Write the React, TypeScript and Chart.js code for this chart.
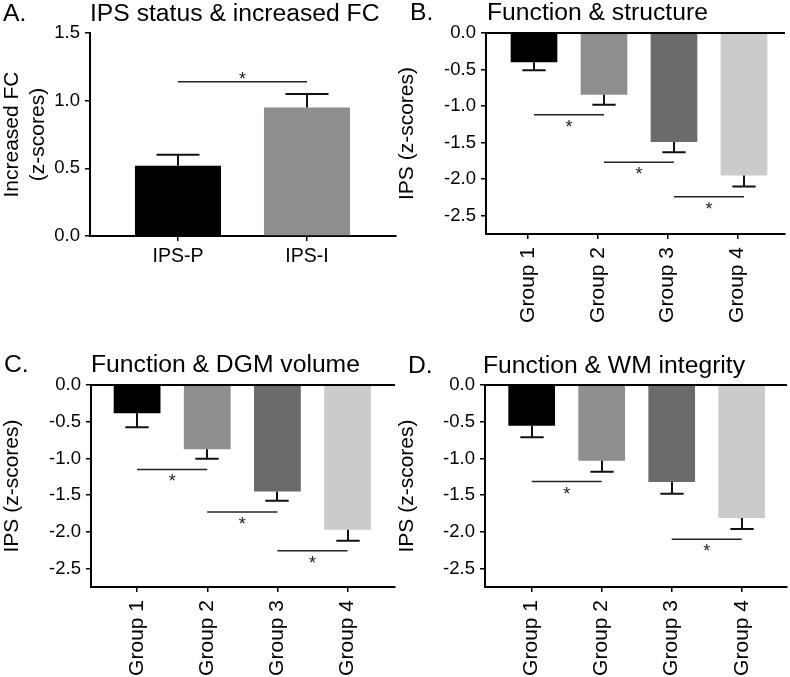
import React, { useEffect, useRef } from "react";
import { Chart, registerables } from "chart.js";

Chart.register(...registerables);

const FONT = "'Liberation Sans', Arial, Helvetica, sans-serif";
Chart.defaults.font.family = FONT;

// ---------- data ----------
const aLabels = ["IPS-P", "IPS-I"];
const aMeans = [0.52, 0.95];
const aErrorEnds = [0.6, 1.05];
const aColors = ["#000000", "#8e8e8e"];
const aYTicks = [0, 0.5, 1.0, 1.5];
const aYTitle = ["Increased FC", "(z-scores)"];
const aSig = [[1, 2, 1.14]];

const groupLabels = ["Group 1", "Group 2", "Group 3", "Group 4"];
const groupColors = ["#000000", "#8e8e8e", "#6b6b6b", "#cbcbcb"];
const groupYTicks = [-2.5, -2.0, -1.5, -1.0, -0.5, 0.0];
const groupYTitle = "IPS (z-scores)";

const bMeans = [-0.4, -0.845, -1.49, -1.95];
const bErrorEnds = [-0.51, -0.98, -1.63, -2.1];
const bSig = [[1, 2, -1.12], [2, 3, -1.77], [3, 4, -2.24]];

const cMeans = [-0.385, -0.875, -1.45, -1.97];
const cErrorEnds = [-0.575, -1.005, -1.575, -2.12];
const cSig = [[1, 2, -1.15], [2, 3, -1.73], [3, 4, -2.255]];

const dMeans = [-0.555, -1.03, -1.32, -1.81];
const dErrorEnds = [-0.71, -1.18, -1.48, -1.96];
const dSig = [[1, 2, -1.315], [3, 4, -2.1]];

// ---------- panels ----------
type Panel = {
  id: string;
  letter: string;
  title: string;
  labels: string[];
  means: number[];
  errors: number[];
  colors: string[];
  sig: number[][];
  yTicks: number[];
  yMin: number;
  yMax: number;
  yTitle: string | string[];
  box: { left: number; top: number; width: number; height: number };
  area: { left: number; top: number; right: number; bottom: number };
  xMin: number;
  xMax: number;
  tickShift: number;
  rotate: number;
  xFont: number;
  xPad: number;
  letterX: number;
  titleY: number;
  titleDx: number;
  starAbove: boolean;
  zeroLine: boolean;
};

const panels: Panel[] = [
  {
    id: "A", letter: "A.", title: "IPS status & increased FC",
    labels: aLabels, means: aMeans, errors: aErrorEnds, colors: aColors, sig: aSig,
    yTicks: aYTicks, yMin: 0, yMax: 1.5, yTitle: aYTitle,
    box: { left: 0, top: 0, width: 400, height: 330 },
    area: { left: 90, top: 33, right: 396, bottom: 236 },
    xMin: 0.318, xMax: 2.69, tickShift: 0, rotate: 0, xFont: 19.5, xPad: 4,
    letterX: 3, titleY: 20.5, titleDx: 0, starAbove: true, zeroLine: false,
  },
  {
    id: "B", letter: "B.", title: "Function & structure",
    labels: groupLabels, means: bMeans, errors: bErrorEnds, colors: groupColors, sig: bSig,
    yTicks: groupYTicks, yMin: -2.75, yMax: 0, yTitle: groupYTitle,
    box: { left: 395, top: 0, width: 395, height: 330 },
    area: { left: 91, top: 33, right: 390, bottom: 234 },
    xMin: 0.314, xMax: 4.586, tickShift: -0.09, rotate: 90, xFont: 21, xPad: 8,
    letterX: 15, titleY: 19.5, titleDx: 1, starAbove: false, zeroLine: true,
  },
  {
    id: "C", letter: "C.", title: "Function & DGM volume",
    labels: groupLabels, means: cMeans, errors: cErrorEnds, colors: groupColors, sig: cSig,
    yTicks: groupYTicks, yMin: -2.75, yMax: 0, yTitle: groupYTitle,
    box: { left: 0, top: 330, width: 400, height: 347 },
    area: { left: 91, top: 55, right: 395, bottom: 257 },
    xMin: 0.343, xMax: 4.676, tickShift: 0, rotate: 90, xFont: 21, xPad: 8,
    letterX: 4, titleY: 41.7, titleDx: 0, starAbove: false, zeroLine: true,
  },
  {
    id: "D", letter: "D.", title: "Function & WM integrity",
    labels: groupLabels, means: dMeans, errors: dErrorEnds, colors: groupColors, sig: dSig,
    yTicks: groupYTicks, yMin: -2.75, yMax: 0, yTitle: groupYTitle,
    box: { left: 395, top: 330, width: 395, height: 347 },
    area: { left: 90, top: 55, right: 392, bottom: 257 },
    xMin: 0.333, xMax: 4.647, tickShift: 0, rotate: 90, xFont: 21, xPad: 8,
    letterX: 13, titleY: 42.5, titleDx: -2, starAbove: false, zeroLine: true,
  },
];

function annotPlugin(p: Panel) {
  return {
    id: "annot" + p.id,
    afterDatasetsDraw(chart: any) {
      const { ctx, chartArea } = chart;
      const x = chart.scales.x;
      const y = chart.scales.y;
      const meta = chart.getDatasetMeta(0);
      ctx.save();
      if (p.zeroLine) {
        const zy = y.getPixelForValue(0);
        ctx.strokeStyle = "#000";
        ctx.lineWidth = 2;
        ctx.beginPath();
        ctx.moveTo(chartArea.left, zy);
        ctx.lineTo(chartArea.right, zy);
        ctx.stroke();
      }
      // error bars
      ctx.strokeStyle = "#111";
      ctx.lineWidth = 2;
      meta.data.forEach((bar: any, i: number) => {
        const bx = Math.round(bar.x);
        const ey = y.getPixelForValue(p.errors[i]);
        const half = bar.width / 4;
        ctx.beginPath();
        ctx.moveTo(bx, bar.y);
        ctx.lineTo(bx, ey);
        ctx.moveTo(bx - half, ey);
        ctx.lineTo(bx + half, ey);
        ctx.stroke();
      });
      // significance lines
      ctx.strokeStyle = "#222";
      ctx.lineWidth = 1.5;
      ctx.fillStyle = "#222";
      ctx.font = `18px ${FONT}`;
      ctx.textAlign = "center";
      ctx.textBaseline = "alphabetic";
      p.sig.forEach(([from, to, val]) => {
        const x1 = x.getPixelForValue(from);
        const x2 = x.getPixelForValue(to);
        const ly = y.getPixelForValue(val);
        ctx.beginPath();
        ctx.moveTo(x1, ly);
        ctx.lineTo(x2, ly);
        ctx.stroke();
        const starCenter = p.starAbove ? ly - 7 : ly + 8;
        ctx.fillText("*", (x1 + x2) / 2, starCenter + 10);
      });
      ctx.restore();
    },
    afterDraw(chart: any) {
      const { ctx, chartArea } = chart;
      ctx.save();
      ctx.fillStyle = "#000";
      ctx.font = `24.7px ${FONT}`;
      ctx.textAlign = "left";
      ctx.textBaseline = "alphabetic";
      ctx.fillText(p.letter, p.letterX, p.titleY);
      ctx.fillText(p.title, chartArea.left + p.titleDx, p.titleY);
      ctx.restore();
    },
  };
}

function makeConfig(p: Panel): any {
  const W = p.box.width;
  const H = p.box.height;
  const gridOpts = {
    display: true,
    offset: false,
    drawOnChartArea: false,
    drawTicks: true,
    tickLength: 5,
    color: "#000",
    lineWidth: 1.5,
  };
  const borderOpts = { display: true, color: "#000", width: 2 };
  return {
    type: "bar",
    data: {
      datasets: [
        {
          data: p.labels.map((_, i) => ({ x: i + 1, y: p.means[i] })),
          backgroundColor: p.colors,
          borderWidth: 0,
          barPercentage: 0.667,
          categoryPercentage: 1,
        },
      ],
    },
    options: {
      animation: false,
      responsive: false,
      maintainAspectRatio: false,
      layout: { padding: { left: 0, top: p.area.top, right: W - p.area.right, bottom: 0 } },
      plugins: { legend: { display: false }, tooltip: { enabled: false }, title: { display: false } },
      scales: {
        x: {
          type: "linear",
          min: p.xMin,
          max: p.xMax,
          offset: false,
          afterBuildTicks: (s: any) => {
            s.ticks = p.labels.map((_, i) => ({ value: i + 1 + p.tickShift }));
          },
          afterFit: (s: any) => {
            s.height = H - p.area.bottom;
          },
          ticks: {
            autoSkip: false,
            minRotation: p.rotate,
            maxRotation: p.rotate,
            padding: p.xPad,
            color: "#000",
            font: { size: p.xFont },
            callback: (_v: any, i: number) => p.labels[i],
          },
          grid: gridOpts,
          border: borderOpts,
        },
        y: {
          type: "linear",
          min: p.yMin,
          max: p.yMax,
          afterBuildTicks: (s: any) => {
            s.ticks = p.yTicks.map((v) => ({ value: v }));
          },
          afterFit: (s: any) => {
            s.width = p.area.left;
          },
          ticks: {
            padding: 5,
            color: "#000",
            font: { size: 18.5 },
            callback: (v: any) => Number(v).toFixed(1),
          },
          title: {
            display: true,
            text: p.yTitle,
            color: "#000",
            font: { size: 21, lineHeight: 1.2 },
            padding: { top: 0, bottom: 0 },
          },
          grid: gridOpts,
          border: borderOpts,
        },
      },
    },
    plugins: [annotPlugin(p)],
  };
}

function PanelChart({ p }: { p: Panel }) {
  const ref = useRef<HTMLCanvasElement>(null);
  useEffect(() => {
    const chart = new Chart(ref.current as HTMLCanvasElement, makeConfig(p));
    return () => chart.destroy();
  }, [p]);
  return (
    <div
      style={{
        position: "absolute",
        left: p.box.left,
        top: p.box.top,
        width: p.box.width,
        height: p.box.height,
      }}
    >
      <canvas
        ref={ref}
        width={p.box.width}
        height={p.box.height}
        style={{ width: p.box.width, height: p.box.height, display: "block" }}
      />
    </div>
  );
}

export default function App() {
  return (
    <div
      style={{
        position: "absolute",
        left: 0,
        top: 0,
        width: 790,
        height: 677,
        background: "#fff",
        overflow: "hidden",
      }}
    >
      {panels.map((p) => (
        <PanelChart key={p.id} p={p} />
      ))}
    </div>
  );
}
